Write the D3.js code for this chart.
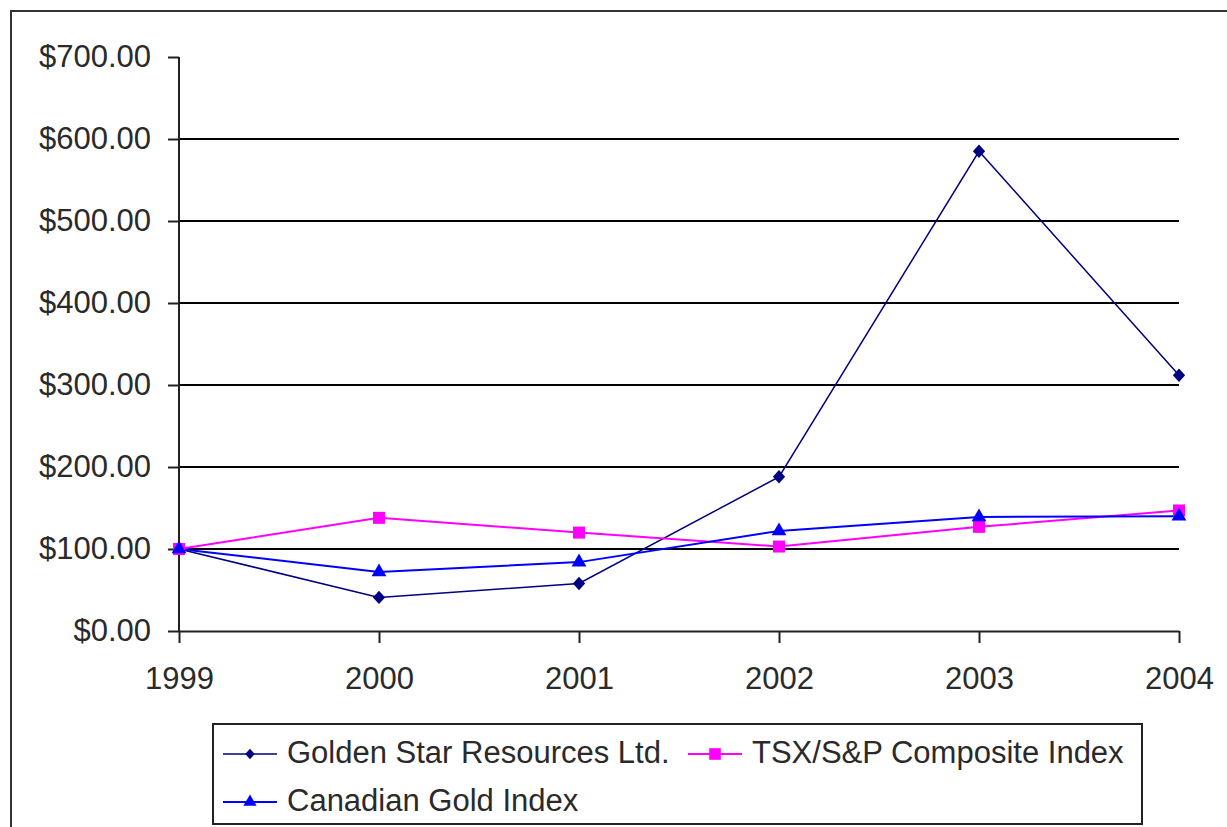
<!DOCTYPE html>
<html>
<head>
<meta charset="utf-8">
<script src="https://cdn.jsdelivr.net/npm/d3@7"></script>
<style>
  body { margin: 0; background: #fff; }
  svg { display: block; }
  text { font-family: "Liberation Sans", Arial, sans-serif; fill: #2a2a2a; }
</style>
</head>
<body>
<div id="chart"></div>
<script>
const years = ['1999', '2000', '2001', '2002', '2003', '2004'];
const goldenStar = [100, 41, 58, 188, 585, 312];
const tsxComposite = [100, 138, 120, 103, 127, 147];
const canadianGold = [100, 72, 84, 122, 139, 140];
const yTicks = [0, 100, 200, 300, 400, 500, 600, 700];
const seriesNames = ['Golden Star Resources Ltd.', 'TSX/S&P Composite Index', 'Canadian Gold Index'];

const width = 1227, height = 827;
const fontSize = 31;

// custom diamond roughly as wide as it is tall
const diamond = {
  draw(ctx, size) {
    const r = Math.sqrt(size / 2);
    ctx.moveTo(0, -r * 1.1);
    ctx.lineTo(r, 0);
    ctx.lineTo(0, r * 1.1);
    ctx.lineTo(-r, 0);
    ctx.closePath();
  }
};

const series = [
  { name: seriesNames[0], values: goldenStar, color: '#000080', lw: 1.5, symbol: diamond, size: 75, legendSize: 45 },
  { name: seriesNames[1], values: tsxComposite, color: '#ff00ff', lw: 2, symbol: d3.symbolSquare, size: 144, legendSize: 135 },
  { name: seriesNames[2], values: canadianGold, color: '#0000ff', lw: 2, symbol: d3.symbolTriangle, size: 95, legendSize: 75 }
];

const svg = d3.select('#chart').append('svg')
  .attr('width', width)
  .attr('height', height);

// outer chart frame (runs past the right and bottom edges)
svg.append('rect')
  .attr('x', 11).attr('y', 11)
  .attr('width', 1260).attr('height', 860)
  .attr('fill', 'none')
  .attr('stroke', '#333')
  .attr('stroke-width', 2);

const x = d3.scalePoint().domain(years).range([179, 1179]);
const y = d3.scaleLinear().domain([0, 700]).range([631, 57]);

// gridlines
svg.append('g')
  .selectAll('line')
  .data(yTicks.filter(d => d > 0 && d < 700))
  .enter().append('line')
    .attr('x1', x.range()[0])
    .attr('x2', x.range()[1])
    .attr('y1', d => y(d))
    .attr('y2', d => y(d))
    .attr('stroke', '#000')
    .attr('stroke-width', 2);

const yAxis = svg.append('g')
  .attr('transform', `translate(${x.range()[0]},0)`)
  .call(d3.axisLeft(y).tickValues(yTicks).tickSize(11).tickPadding(17)
    .tickFormat(d => '$' + d.toFixed(2)));

const xAxis = svg.append('g')
  .attr('transform', `translate(0,${y(0)})`)
  .call(d3.axisBottom(x).tickSize(12).tickPadding(24).tickSizeOuter(0));

[yAxis, xAxis].forEach(ax => {
  ax.select('.domain').attr('stroke', '#222').attr('stroke-width', 2);
  ax.selectAll('.tick line').attr('stroke', '#222').attr('stroke-width', 2);
  ax.selectAll('.tick text')
    .attr('fill', '#2a2a2a')
    .style('font-size', fontSize + 'px')
    .style('font-family', '"Liberation Sans", Arial, sans-serif');
});
yAxis.select('.domain').attr('d', `M0,${y(700)}V${y(0)}`);

const line = d3.line()
  .x((d, i) => x(years[i]))
  .y(d => y(d));

series.forEach(s => {
  svg.append('path')
    .datum(s.values)
    .attr('d', line)
    .attr('fill', 'none')
    .attr('stroke', s.color)
    .attr('stroke-width', s.lw);
});

series.forEach(s => {
  svg.append('g')
    .selectAll('path')
    .data(s.values)
    .enter().append('path')
      .attr('d', d3.symbol().type(s.symbol).size(s.size))
      .attr('transform', (d, i) => `translate(${x(years[i])},${y(d)})`)
      .attr('fill', s.color);
});

// legend
const legend = svg.append('g');
legend.append('rect')
  .attr('x', 213).attr('y', 724)
  .attr('width', 929).attr('height', 100)
  .attr('fill', '#fff')
  .attr('stroke', '#222')
  .attr('stroke-width', 2);

const legendPos = [
  { x: 223, y: 754 },
  { x: 688, y: 754 },
  { x: 223, y: 802 }
];

series.forEach((s, i) => {
  const p = legendPos[i];
  const g = legend.append('g').attr('transform', `translate(${p.x},${p.y})`);
  g.append('line')
    .attr('x1', 0).attr('x2', 54)
    .attr('stroke', s.color)
    .attr('stroke-width', s.lw);
  g.append('path')
    .attr('d', d3.symbol().type(s.symbol).size(s.legendSize))
    .attr('transform', 'translate(27,0)')
    .attr('fill', s.color);
  g.append('text')
    .attr('x', 64)
    .attr('y', 9)
    .style('font-size', fontSize + 'px')
    .text(s.name);
});
</script>
</body>
</html>
